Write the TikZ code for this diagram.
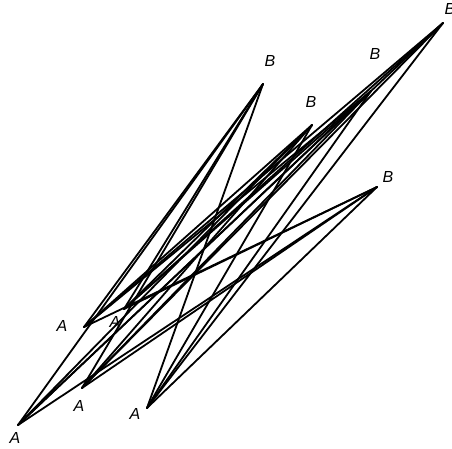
\documentclass[tikz,border=0pt]{standalone}
\usepackage{fontspec}
\setmainfont{Liberation Sans}
\begin{document}
\begin{tikzpicture}[x=1pt,y=-1pt,
  lab/.style={font=\itshape\fontsize{16}{16}\selectfont,inner sep=0pt},
  edge/.style={line width=1.8pt,line cap=round}]
\useasboundingbox (0,0) rectangle (452,449);
% A vertices
\coordinate (A1) at (84,327);
\coordinate (A2) at (124,309);
\coordinate (A3) at (82,388);
\coordinate (A4) at (147,408);
\coordinate (A5) at (18,425);
% B vertices
\coordinate (B1) at (263,84);
\coordinate (B2) at (312,125);
\coordinate (B3) at (371,91);
\coordinate (B4) at (443,23);
\coordinate (B5) at (377,187);
% labels
\node[lab] (LA1) at (62,326) {A};
\node[lab] (LA2) at (115,322) {A};
\node[lab] (LA3) at (79,406) {A};
\node[lab] (LA4) at (135,414) {A};
\node[lab] (LA5) at (15,438) {A};
\node[lab] (LB1) at (270,61) {B};
\node[lab] (LB2) at (311,102) {B};
\node[lab] (LB3) at (375,54) {B};
\node[lab] (LB4) at (450,9) {B};
\node[lab] (LB5) at (388,177) {B};
\foreach \a in {A1,A2,A3,A4,A5}
  \foreach \b in {B1,B2,B3,B4,B5}
    \draw[edge] (\a) -- (\b);
\end{tikzpicture}
\end{document}
